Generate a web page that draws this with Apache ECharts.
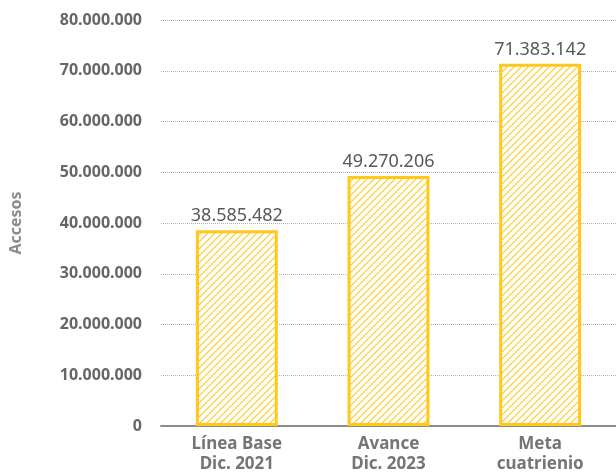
<!DOCTYPE html>
<html>
<head>
<meta charset="utf-8">
<script src="https://cdn.jsdelivr.net/npm/echarts@6/dist/echarts.min.js"></script>
<style>
html, body { margin: 0; padding: 0; background: #fff; }
#chart { width: 616px; height: 476px; }
</style>
</head>
<body>
<div id="chart"></div>
<script>
// datos
const categorias = ['Línea Base\nDic. 2021', 'Avance\nDic. 2023', 'Meta\ncuatrienio']
const accesos = [38585482, 49270206, 71383142]
const ticksY = [0, 10000000, 20000000, 30000000, 40000000, 50000000, 60000000, 70000000, 80000000]

const amarillo = '#FFC81A'

// formato con puntos de miles
function miles (v) {
    return String(Math.round(v)).replace(/\B(?=(\d{3})+(?!\d))/g, '.')
}

// patron rayado diagonal
function rayado () {
    const c = document.createElement('canvas')
    c.width = 7
    c.height = 7
    const ctx = c.getContext('2d')
    ctx.fillStyle = '#fff'
    ctx.fillRect(0, 0, 7, 7)
    ctx.strokeStyle = amarillo
    ctx.lineWidth = 1.1
    ctx.beginPath()
    ctx.moveTo(0, 7); ctx.lineTo(7, 0)
    ctx.moveTo(-3.5, 3.5); ctx.lineTo(3.5, -3.5)
    ctx.moveTo(3.5, 10.5); ctx.lineTo(10.5, 3.5)
    ctx.stroke()
    return c
}

const chart = echarts.init(document.getElementById('chart'), null, {renderer: 'canvas'})
const fuente = '"Noto Sans", sans-serif'
const option = {
    animation: false,
    grid: {left: 161, right: 0, top: 20, bottom: 50},
    xAxis: {
        type: 'category',
        data: categorias,
        axisTick: {show: false},
        axisLine: {lineStyle: {color: '#8c8c8c', width: 2}},
        axisLabel: {
            color: '#757575', fontWeight: 'bold', fontSize: 17,
            fontFamily: fuente, lineHeight: 20, margin: 8
        }
    },
    yAxis: {
        type: 'value',
        min: ticksY[0],
        max: ticksY[ticksY.length - 1],
        interval: 10000000,
        name: 'Accesos',
        nameLocation: 'middle',
        nameGap: 137,
        nameTextStyle: {color: '#8c8c8c', fontWeight: 'bold', fontSize: 16, fontFamily: fuente},
        axisLine: {show: false},
        axisTick: {show: false},
        axisLabel: {
            color: '#666', fontWeight: 'bold', fontSize: 16, fontFamily: fuente, margin: 19,
            formatter: miles
        },
        splitLine: {lineStyle: {color: '#b0b0b0', type: [1, 1], width: 1}}
    },
    series: [{
        type: 'bar',
        data: accesos,
        barWidth: '54%',
        itemStyle: {
            color: {image: rayado(), repeat: 'repeat'},
            borderColor: amarillo,
            borderWidth: 3
        },
        label: {
            show: true,
            position: 'top',
            distance: 5,
            color: '#595959',
            fontSize: 18,
            fontFamily: fuente,
            formatter: p => miles(p.value)
        }
    }]
}
chart.setOption(option)
</script>
</body>
</html>
